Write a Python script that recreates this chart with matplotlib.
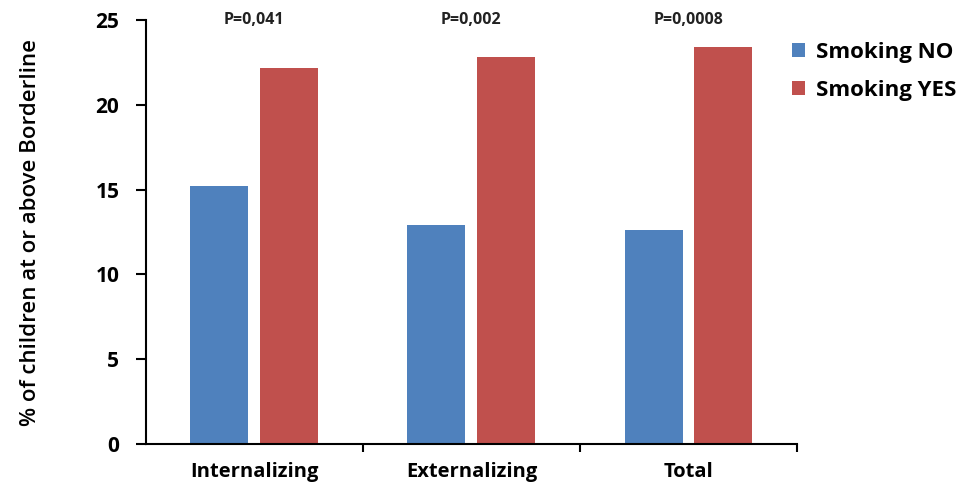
import matplotlib
matplotlib.use("Agg")
import matplotlib.pyplot as plt
import numpy as np

categories = ["Internalizing", "Externalizing", "Total"]
smoking_no = [15.2, 12.9, 12.6]
smoking_yes = [22.2, 22.8, 23.4]
p_values = ["P=0,041", "P=0,002", "P=0,0008"]
series_names = ["Smoking NO", "Smoking YES"]
yticks = [0, 5, 10, 15, 20, 25]

plt.rcParams['font.family'] = ['Open Sans', 'DejaVu Sans']

fig = plt.figure(figsize=(9.65, 4.9), dpi=100)
ax = fig.add_axes([0.151, 0.094, 0.675, 0.865])

x = np.arange(len(categories))
w = 0.267
off = 0.161
ax.bar(x - off, smoking_no, w, color="#4F81BD", label=series_names[0])
ax.bar(x + off, smoking_yes, w, color="#C0504D", label=series_names[1])

for xi, p in zip(x, p_values):
    ax.text(xi, 25, p, ha="center", va="center", fontsize=11.5, fontweight="bold", color="#222222")

ax.set_xlim(-0.5, 2.5)
ax.set_ylim(0, 25)
ax.set_yticks(yticks)
ax.set_yticklabels([str(t) for t in yticks], fontsize=15, fontweight="bold")
ax.set_xticks(x)
ax.set_xticklabels(categories, fontsize=14.5, fontweight="bold")
ax.tick_params(axis="x", length=0, pad=13)
ax.set_xticks([0.5, 1.5, 2.5], minor=True)
ax.tick_params(axis="x", which="minor", length=6, width=1.5, direction="out")
ax.tick_params(axis="y", length=7, width=1.5, direction="out", pad=12)

for s in ["top", "right"]:
    ax.spines[s].set_visible(False)
for s in ["left", "bottom"]:
    ax.spines[s].set_linewidth(1.5)

ax.set_ylabel("% of children at or above Borderline", fontsize=16, fontweight="semibold")
ax.yaxis.set_label_coords(-0.16, 0.5)

fig.legend(loc="upper left", bbox_to_anchor=(0.80, 0.955), frameon=False,
           prop={"size": 16, "weight": "bold"}, handlelength=0.6, handleheight=0.6,
           handletextpad=0.5, labelspacing=0.75)

fig.savefig("out.png", dpi=100)
